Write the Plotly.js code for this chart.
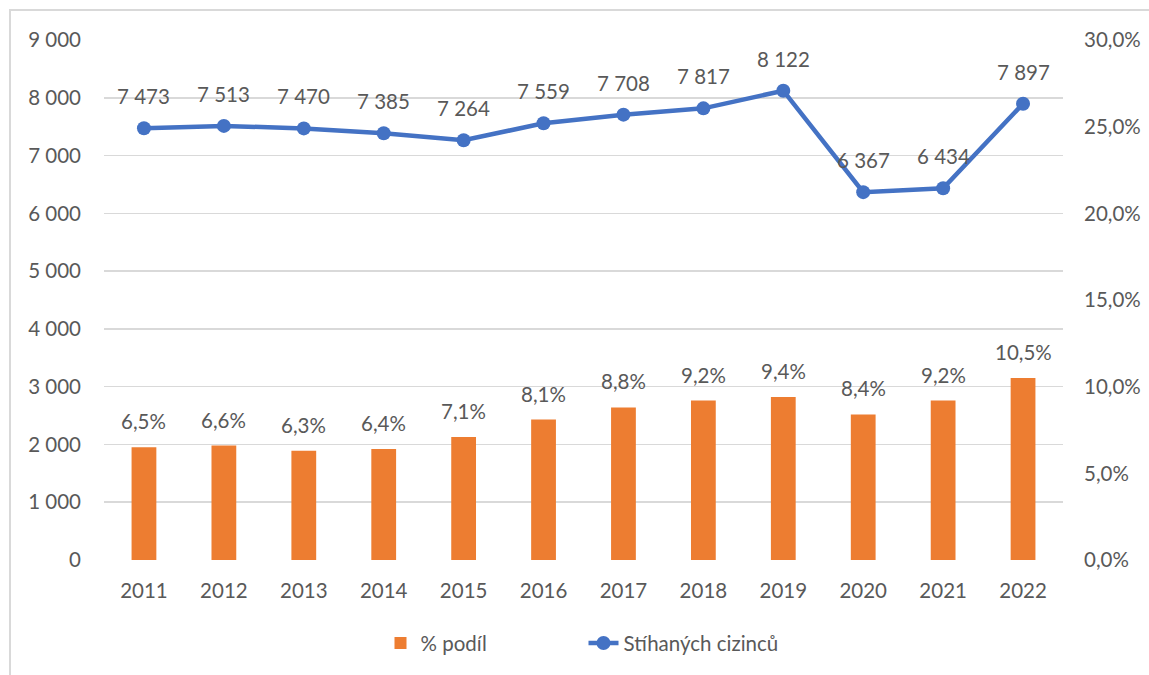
<!DOCTYPE html>
<html><head><meta charset="utf-8">
<script src="https://cdn.plot.ly/plotly-3.0.1.min.js"></script>
<style>html,body{margin:0;padding:0;background:#fff;overflow:hidden}
#frame{position:absolute;left:9px;top:9px;width:2000px;height:2000px;border-left:2px solid #d9d9d9;border-top:2px solid #d9d9d9;pointer-events:none}
#chart{width:1149px;height:675px}</style>
</head><body>
<div id="chart"></div><div id="frame"></div>
<script>
const years = ['2011','2012','2013','2014','2015','2016','2017','2018','2019','2020','2021','2022'];
const podil = [0.065,0.066,0.063,0.064,0.071,0.081,0.088,0.092,0.094,0.084,0.092,0.105];
const stihanych = [7473,7513,7470,7385,7264,7559,7708,7817,8122,6367,6434,7897];
const leftTicks = [0,1000,2000,3000,4000,5000,6000,7000,8000,9000];
const rightTicks = [0,0.05,0.10,0.15,0.20,0.25,0.30];

const font = {family:'Lato, "Open Sans", sans-serif', size:20.5, color:'#595959'};
const fmtInt = v => String(v).replace(/\B(?=(\d{3})+(?!\d))/g,' ');
const fmtPct = v => (v*100).toFixed(1).replace('.',',') + '%';

const traces = [
  {type:'bar', name:'% podíl', x:years, y:podil, yaxis:'y2', marker:{color:'#ED7D31'}, width:0.31, hoverinfo:'none'},
  {type:'scatter', mode:'lines+markers', name:'Stíhaných cizinců', x:years, y:stihanych, yaxis:'y',
   line:{color:'#4472C4', width:4.5}, marker:{color:'#4472C4', size:14}, hoverinfo:'none'}
];

const annotations = [];
years.forEach((yr,i)=>{
  annotations.push({x:i, y:stihanych[i], xref:'x', yref:'y', text:fmtInt(stihanych[i]), showarrow:false, yshift:32, font:font});
  annotations.push({x:i, y:podil[i], xref:'x', yref:'y2', text:fmtPct(podil[i]), showarrow:false, yshift:26, font:font});
});

const layout = {
  width:1149, height:675,
  margin:{l:104, r:86, t:40, b:115},
  paper_bgcolor:'#fff', plot_bgcolor:'#fff',
  separators:', ',
  font:font,
  showlegend:true,
  legend:{orientation:'h', x:0.5, xanchor:'center', y:-0.16, yanchor:'middle', font:font, traceorder:'normal',
          entrywidth:158, entrywidthmode:'pixels'},
  xaxis:{type:'category', range:[-0.5,11.5], autorange:false, showgrid:false, zeroline:false, showline:false, ticks:'', tickfont:font, ticklabelstandoff:16},
  yaxis:{range:[0,9000], autorange:false, tickvals:leftTicks, ticktext:leftTicks.map(fmtInt), showgrid:true, gridcolor:'#d9d9d9', gridwidth:1.5,
         zeroline:false, showline:false, ticks:'', tickfont:font, ticklabelstandoff:22},
  yaxis2:{range:[0,0.30], autorange:false, overlaying:'y', side:'right', tickvals:rightTicks, ticktext:rightTicks.map(fmtPct), showgrid:false,
          zeroline:false, showline:false, ticks:'', tickfont:font, ticklabelstandoff:20},
  annotations:annotations
};
Plotly.newPlot('chart', traces, layout, {staticPlot:true, displayModeBar:false});
</script>
</body></html>
